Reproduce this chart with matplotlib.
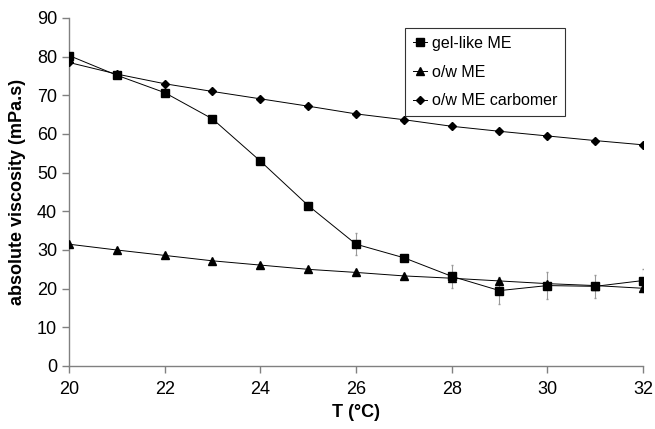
import matplotlib
matplotlib.use("Agg")
import matplotlib.pyplot as plt

plt.rcParams["font.family"] = ["Liberation Sans", "DejaVu Sans"]

# temperature (°C)
temps = [20, 21, 22, 23, 24, 25, 26, 27, 28, 29, 30, 31, 32]

# absolute viscosity (mPa.s)
gel_like = [80.3, 75.2, 70.7, 63.9, 53.0, 41.5, 31.5, 28.0, 23.2, 19.5, 20.8, 20.6, 22.1]
gel_like_err = [0.5, 0.5, 0.5, 0.5, 0.5, 0.8, 2.8, 0.5, 3.0, 3.5, 3.5, 3.0, 3.0]
ow_me = [31.5, 30.0, 28.6, 27.2, 26.1, 25.0, 24.2, 23.3, 22.7, 22.0, 21.3, 20.8, 20.1]
ow_me_carbomer = [78.5, 75.5, 73.0, 71.0, 69.1, 67.2, 65.2, 63.7, 62.0, 60.7, 59.5, 58.3, 57.2]

fig = plt.figure(figsize=(6.55, 4.29), dpi=100)
ax = fig.add_axes([69 / 655, 1 - 366 / 429, (643 - 69) / 655, (366 - 18) / 429])

eb = ax.errorbar(temps, gel_like, yerr=gel_like_err, fmt="s-", color="black",
                 ecolor="#999999", elinewidth=0.8, capsize=1, markersize=6,
                 linewidth=0.7, zorder=3)
h_ow, = ax.plot(temps, ow_me, "^-", color="black", markersize=6, linewidth=0.7,
                zorder=3)
h_carb, = ax.plot(temps, ow_me_carbomer, "D-", color="black", markersize=4.5,
                  linewidth=0.7, zorder=3)

ax.set_xlim(20, 32)
ax.set_ylim(0, 90)
ax.set_xticks(range(20, 33, 2))
ax.set_yticks(range(0, 91, 10))

for side in ("top", "right"):
    ax.spines[side].set_visible(False)
for side in ("left", "bottom"):
    ax.spines[side].set_color("#808080")
    ax.spines[side].set_linewidth(1.0)
ax.tick_params(axis="both", colors="#808080", labelcolor="black",
               labelsize=13, length=5, width=1.0, direction="out")
ax.tick_params(axis="x", pad=6)

ax.set_xlabel("T (°C)", fontsize=13, fontweight="bold", labelpad=4)
ax.set_ylabel("absolute viscosity (mPa.s)", fontsize=13, fontweight="bold", labelpad=8)

leg = ax.legend([eb.lines[0], h_ow, h_carb],
                ["gel-like ME", "o/w ME", "o/w ME carbomer"],
                loc="upper left", bbox_to_anchor=(0.585, 0.971), borderaxespad=0,
                fontsize=11.5, frameon=True, fancybox=False, handlelength=0.9,
                handletextpad=0.3, borderpad=0.5, labelspacing=0.85)
leg.get_frame().set_edgecolor("black")
leg.get_frame().set_linewidth(0.8)

fig.savefig("out.png", dpi=100)
